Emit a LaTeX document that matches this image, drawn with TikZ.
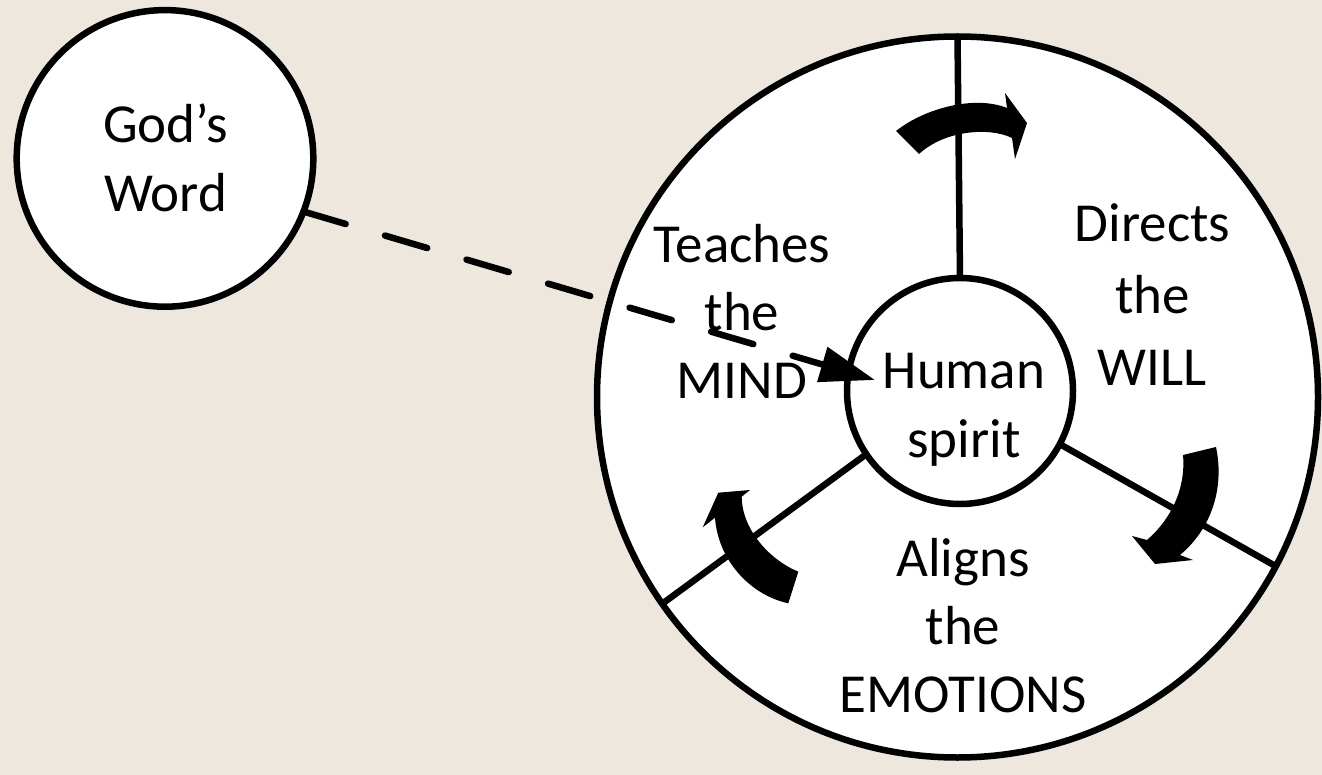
\documentclass[tikz,border=0pt]{standalone}
\usepackage{fontspec}
\setmainfont{Carlito}
\usetikzlibrary{arrows.meta}
\definecolor{bg}{RGB}{237,231,222}
\begin{document}
\begin{tikzpicture}[x=1pt,y=-1pt,
  ring/.style={circle,draw=black,fill=white,line width=6.5pt,inner sep=0pt,outer sep=0pt},
  lbl/.style={align=center,anchor=base,inner sep=0pt,font=\fontsize{55pt}{#1}\selectfont},
  lbl/.default=69pt,
  spoke/.style={line width=6.5pt},
  turn/.style={fill=black,draw=none},
  conn/.style={line width=6.5pt,dash pattern=on 44pt off 41pt,line cap=round,-{Triangle[length=55pt,width=35pt]}}]
\useasboundingbox (0,0) rectangle (1322,775);
\fill[bg] (0,0) rectangle (1322,775);
% big wheel
\node[ring,minimum size=721pt] (big) at (957.5,397) {};
\node[ring,minimum size=226pt] (inner) at (960,391) {};
\draw[spoke] (inner.90) -- (big.90);
\draw[spoke] (inner.-28) -- (big.-28);
\draw[spoke] (inner.214) -- (big.215);
% curved arrows
\fill[turn] (896,131) .. controls (925,108) and (975,95) .. (1007,108) -- (1005,93) -- (1027,123) -- (1015,159) -- (1012,138) .. controls (990,127) and (945,130) .. (919,154) -- cycle;
\fill[turn] (1216,447) .. controls (1225,490) and (1210,530) .. (1180,555) -- (1193,560) -- (1155,564) -- (1132,536) -- (1147,540) .. controls (1170,520) and (1186,490) .. (1183,455) -- cycle;
\fill[turn] (788.3,603.3) -- (798.3,571.7) .. controls (770,560) and (742,530) .. (741.7,496.7) -- (750,490) -- (718.3,492.7) -- (702.7,527.3) -- (715,517.7) .. controls (718,560) and (750,595) .. (788.3,603.3) -- cycle;
% labels
\node[lbl=67.6pt] (mind) at (742,398) {Teaches\\the\\MIND};
\node[lbl=72pt] (will) at (1152.5,385.7) {Directs\\the\\WILL};
\node[lbl=69.7pt] (spirit) at (964,457.7) {Human\\spirit};
\node[lbl=68pt] (emo) at (963,712.7) {Aligns\\the\\EMOTIONS};
% God's word
\node[ring,minimum size=296.6pt] (god) at (165,158.4) {};
\node[lbl=68.7pt] (godtxt) at (165.5,211.7) {God’s\\Word};
\coordinate (tip) at (875,380);
\draw[conn] (god.-21) -- (tip);
\end{tikzpicture}
\end{document}
